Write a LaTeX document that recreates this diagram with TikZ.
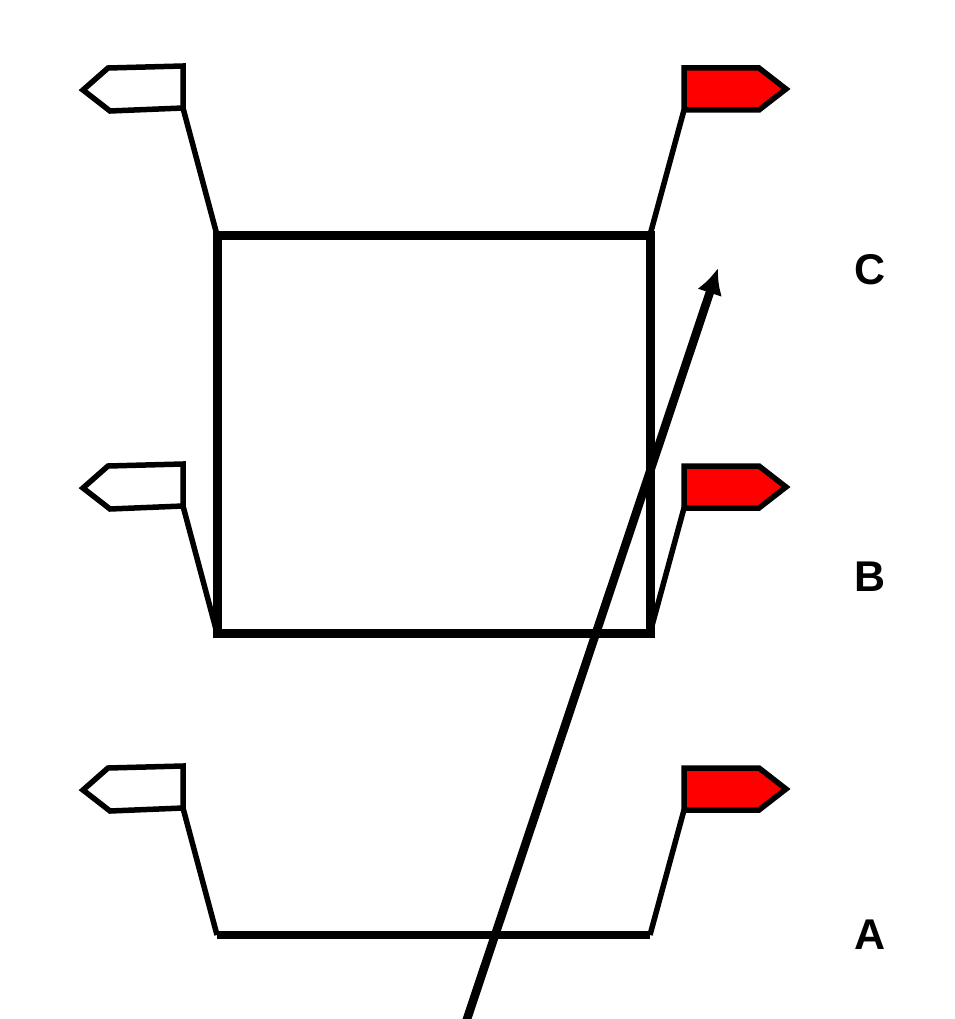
\documentclass[tikz,border=0pt]{standalone}
\usepackage{fontspec}
\setmainfont{Liberation Sans}
\usetikzlibrary{arrows.meta}

\begin{document}
\begin{tikzpicture}[x=1pt,y=-1pt]
\useasboundingbox (0,0) rectangle (954,1019);
% Flags on poles, one pair per level
\foreach \y/\c in {0/C,398/B,700/A}{
  \begin{scope}[shift={(0,\y)}]
    \coordinate (foot-l-\c) at (217,235);
    \coordinate (foot-r-\c) at (650,235);
    \coordinate (flag-l-\c) at (183,108);
    \coordinate (flag-r-\c) at (684,110);
    \draw[line width=5.5] (flag-l-\c) -- (foot-l-\c);
    \draw[line width=5.5] (flag-r-\c) -- (foot-r-\c);
    \filldraw[draw=black,fill=white,line width=5.5] (83,90) -- (108,68) -- (183,66) -- (flag-l-\c) -- (110,111) -- cycle;
    \filldraw[draw=black,fill=red,line width=5.5] (684,68) -- (759,68) -- (786,89) -- (759,110) -- (flag-r-\c) -- cycle;
  \end{scope}
}
% Box from B up to C
\draw[line width=9] (foot-l-C) rectangle (foot-r-B);
% Line at A
\draw[line width=8] (foot-l-A) -- (foot-r-A);
% Levels
\foreach \c/\ly in {C/270,B/577,A/935}
  \node[font=\fontsize{43}{50}\selectfont\bfseries] (lbl-\c) at (870,\ly) {\c};
% Slanted arrow
\coordinate (arrow-start) at (465,1025);
\coordinate (arrow-end) at (718,268);
\draw[-{Latex[length=26,width=26]},line width=8.5] (arrow-start) -- (arrow-end);
\end{tikzpicture}
\end{document}
